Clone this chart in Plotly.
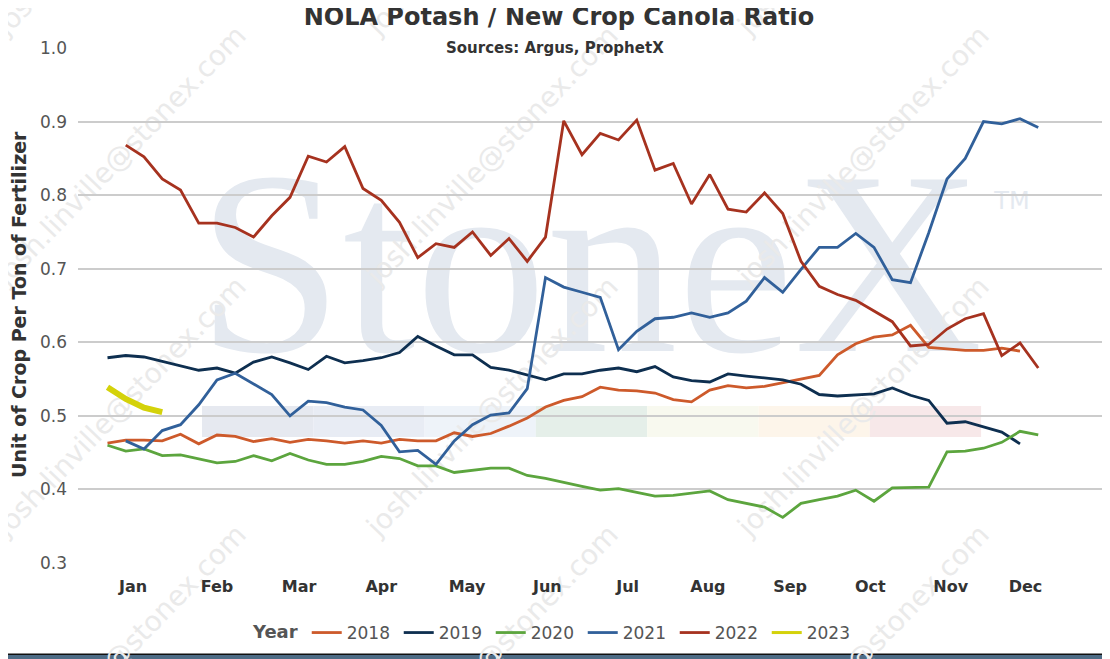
import plotly.graph_objects as go

# weekly ratio values (week 1 = first week of January)
vals_2018 = [0.463, 0.467, 0.467, 0.466, 0.475, 0.462, 0.474, 0.472, 0.465, 0.469,
             0.464, 0.468, 0.466, 0.463, 0.466, 0.463, 0.468, 0.466, 0.466, 0.477,
             0.472, 0.476, 0.486, 0.497, 0.512, 0.521, 0.526, 0.539, 0.535, 0.534,
             0.531, 0.522, 0.519, 0.535, 0.541, 0.538, 0.540, 0.545, 0.551, 0.555,
             0.583, 0.598, 0.607, 0.610, 0.623, 0.593, 0.591, 0.589, 0.589, 0.592,
             0.588]
vals_2019 = [0.579, 0.582, 0.580, 0.574, 0.568, 0.562, 0.565, 0.558, 0.573, 0.580,
             0.572, 0.563, 0.581, 0.572, 0.575, 0.579, 0.586, 0.608, 0.595, 0.583,
             0.583, 0.566, 0.562, 0.556, 0.549, 0.557, 0.557, 0.562, 0.565, 0.560,
             0.567, 0.553, 0.548, 0.546, 0.557, 0.554, 0.552, 0.549, 0.543, 0.529,
             0.527, 0.529, 0.530, 0.538, 0.528, 0.521, 0.490, 0.492, 0.485, 0.478,
             0.462]
vals_2020 = [0.460, 0.452, 0.455, 0.446, 0.447, 0.441, 0.436, 0.438, 0.446, 0.439,
             0.449, 0.440, 0.434, 0.434, 0.438, 0.445, 0.442, 0.432, 0.432, 0.423,
             0.426, 0.429, 0.429, 0.419, 0.415, 0.409, 0.404, 0.399, 0.401, 0.396,
             0.391, 0.392, 0.395, 0.398, 0.386, 0.381, 0.376, 0.362, 0.381, 0.386,
             0.391, 0.399, 0.384, 0.402, 0.402, 0.403, 0.451, 0.452, 0.456, 0.464,
             0.479, 0.474]
vals_2021 = [0.466, 0.455, 0.480, 0.488, 0.515, 0.549, 0.558, 0.544, 0.529,
             0.500, 0.520, 0.518, 0.512, 0.508, 0.487, 0.451, 0.453, 0.434, 0.466,
             0.488, 0.501, 0.504, 0.537, 0.688, 0.675, 0.668, 0.661, 0.590, 0.615,
             0.632, 0.634, 0.640, 0.634, 0.640, 0.656, 0.688, 0.668, 0.699, 0.729,
             0.729, 0.748, 0.729, 0.685, 0.681, 0.749, 0.822, 0.850, 0.900, 0.897,
             0.904, 0.892]
vals_2022 = [0.868, 0.852, 0.822, 0.807, 0.762, 0.762, 0.756, 0.743, 0.772,
             0.797, 0.853, 0.845, 0.866, 0.809, 0.793, 0.763, 0.715, 0.734, 0.729,
             0.750, 0.718, 0.741, 0.710, 0.743, 0.901, 0.855, 0.884, 0.875, 0.902,
             0.834, 0.843, 0.788, 0.828, 0.781, 0.777, 0.803, 0.775, 0.710, 0.676,
             0.665, 0.657, 0.643, 0.628, 0.595, 0.597, 0.618, 0.632, 0.639, 0.582,
             0.599, 0.565]
vals_2023 = [0.539, 0.523, 0.511, 0.505]

years = ['2018', '2019', '2020', '2021', '2022', '2023']
start_week = {'2018': 1, '2019': 1, '2020': 1, '2021': 2, '2022': 2, '2023': 1}
values = {'2018': vals_2018, '2019': vals_2019, '2020': vals_2020,
          '2021': vals_2021, '2022': vals_2022, '2023': vals_2023}

colors = {'2018': '#cd5a2b', '2019': '#0e2f50', '2020': '#5ca53e',
          '2021': '#31609a', '2022': '#a6321f', '2023': '#d4d20a'}

month_labels = ['Jan', 'Feb', 'Mar', 'Apr', 'May', 'Jun',
                'Jul', 'Aug', 'Sep', 'Oct', 'Nov', 'Dec']
month_ticks = [2.4, 7.0, 11.5, 16.0, 20.7, 25.1, 29.5, 33.9, 38.4, 42.8, 47.2, 51.3]

FONT = 'DejaVu Sans'
# the page puts the figure 8px in from the top-left corner, so the figure is
# made 8px smaller and every position below is given in page pixels
OFF = 8
W, H = 1110 - OFF, 659 - OFF
PL, PR, PT, PB = 78, 1103, 48, 563   # plot area in page pixels


def px_x(px):
    return (px - PL) / (PR - PL)


def px_y(py):
    return (PB - py) / (PB - PT)


def text_shape(cx, cy, text, size, color, family=FONT, angle=0):
    return dict(type='rect', xref='paper', yref='paper', layer='below',
                x0=px_x(cx - 10), x1=px_x(cx + 10), y0=px_y(cy + 10), y1=px_y(cy - 10),
                line=dict(width=0), fillcolor='rgba(0,0,0,0)',
                label=dict(text=text, textposition='middle center', textangle=angle,
                           font=dict(family=family, size=size, color=color)))


fig = go.Figure()

for year in years:
    vals = values[year]
    weeks = list(range(start_week[year], start_week[year] + len(vals)))
    width = 6 if year == '2023' else 2.8
    fig.add_trace(go.Scatter(x=weeks, y=vals, mode='lines', name=year,
                             line=dict(color=colors[year], width=width),
                             showlegend=(year != '2023'), legendgroup=year))
    if year == '2023':
        # legend entry drawn with a normal line width
        fig.add_trace(go.Scatter(x=[None], y=[None], mode='lines', name=year,
                                 line=dict(color=colors[year], width=3), legendgroup=year))

# frame and background decorations
shapes = [
    dict(type='rect', xref='paper', yref='paper', layer='below',
         x0=px_x(0), x1=px_x(1105), y0=px_y(655), y1=px_y(0),
         line=dict(width=0), fillcolor='#111111'),
    dict(type='rect', xref='paper', yref='paper', layer='below',
         x0=px_x(0), x1=px_x(1103.5), y0=px_y(653.5), y1=px_y(0),
         line=dict(width=0), fillcolor='#ffffff'),
]

band_colors = ['#e6e9f0', '#e8ecf4', '#eef3f9', '#e5efe9', '#f8f9ef', '#fdf5ea', '#f7e8e9']
for i, c in enumerate(band_colors):
    shapes.append(dict(type='rect', xref='paper', yref='paper', layer='below',
                       x0=px_x(202 + i * 111.3), x1=px_x(202 + (i + 1) * 111.3),
                       y0=px_y(437), y1=px_y(406),
                       line=dict(width=0), fillcolor=c))

shapes.append(text_shape(590, 234, 'StoneX', 262, '#e4e9f0', family='Liberation Serif'))
shapes.append(text_shape(1012, 199, 'TM', 24, '#e4e9f0'))

for cy in [-96, 154, 405, 653]:
    for cx in [119, 491, 862]:
        shapes.append(text_shape(cx, cy, 'josh.linville@stonex.com', 28, '#eaeaea', angle=-46))

fig.update_layout(
    width=W, height=H,
    template='none',
    paper_bgcolor='#4e6c86',
    plot_bgcolor='rgba(0,0,0,0)',
    margin=dict(l=PL - OFF, r=1110 - PR, t=PT - OFF, b=659 - PB, autoexpand=False),
    font=dict(family=FONT, color='#333333'),
    title=dict(text='NOLA Potash / New Crop Canola Ratio',
               x=0.5, xref='container', xanchor='center',
               y=1 - (17 - OFF) / H, yref='container', yanchor='middle',
               font=dict(family=FONT, size=24, color='#333333', weight='bold')),
    shapes=shapes,
    annotations=[
        dict(text='Sources: Argus, ProphetX', xref='paper', yref='paper',
             x=px_x(555), y=px_y(48), xanchor='center', yanchor='middle', showarrow=False,
             font=dict(family=FONT, size=15, color='#333333', weight='bold')),
        dict(text='Unit of Crop Per Ton of Fertilizer', xref='paper', yref='paper',
             x=px_x(19), y=px_y(305), xanchor='center', yanchor='middle', showarrow=False,
             textangle=-90,
             font=dict(family=FONT, size=19, color='#333333', weight='bold')),
    ],
    xaxis=dict(range=[(PL - 107.5) / 18.25 + 1, (PR - 107.5) / 18.25 + 1],
               tickmode='array', tickvals=month_ticks, ticktext=month_labels,
               showgrid=False, zeroline=False, showline=False, ticks='',
               ticklabelstandoff=12,
               tickfont=dict(family=FONT, size=16, color='#333333', weight='bold')),
    yaxis=dict(range=[0.3, 1.0], dtick=0.1, tick0=0.3, tickformat='.1f',
               showgrid=True, gridcolor='#cccccc', gridwidth=1.5,
               zeroline=False, showline=False, ticks='',
               ticklabelstandoff=10,
               tickfont=dict(family=FONT, size=17, color='#555555')),
    legend=dict(orientation='h', x=px_x(555), xanchor='center',
                y=px_y(633), yanchor='middle',
                bgcolor='rgba(0,0,0,0)', entrywidth=47,
                font=dict(family=FONT, size=17, color='#555555'),
                title=dict(text='Year', side='left',
                           font=dict(family=FONT, size=18, color='#555555', weight='bold'))),
    showlegend=True,
)

fig.write_html('out.html')
